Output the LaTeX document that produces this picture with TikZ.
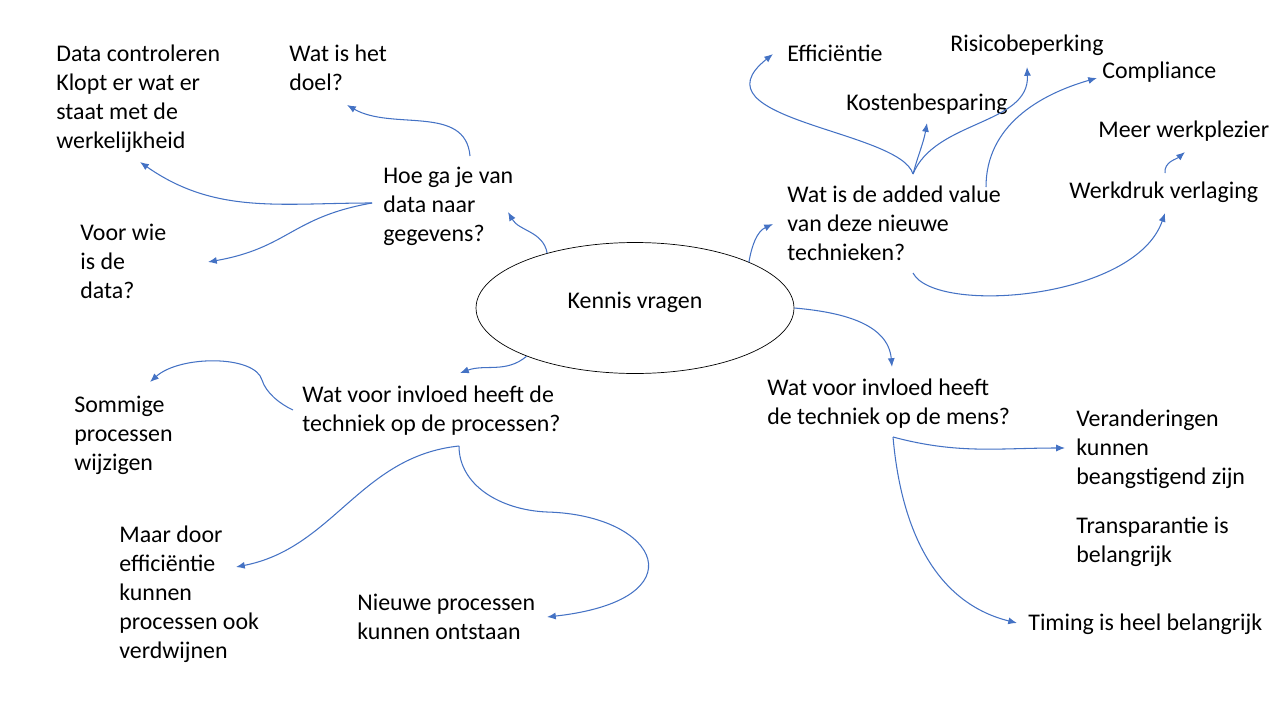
\documentclass[tikz,border=0pt]{standalone}
\usepackage{fontspec}
\setmainfont{Carlito}
\usepackage{xcolor}
\usepackage{tikz}
\usetikzlibrary{shapes.geometric,arrows.meta}
\definecolor{lijnblauw}{HTML}{4472C4}

\begin{document}
\begin{tikzpicture}[x=0.02cm, y=-0.02cm, >={Latex[length=5pt,width=4pt]},
  txt/.style={anchor=north west, yshift=0.16cm, align=left, inner sep=0pt,
    font=\fontsize{13.6}{16.5}\selectfont, execute at begin node=\strut},
  pijl/.style={->, lijnblauw, line width=0.6pt}]
%\draw[help lines] (0,0) grid[step=100] (1280,720);
\useasboundingbox (0,0) rectangle (1280,720);
%==================== Kern ==================
\node[draw, ellipse, minimum width=6.36cm, minimum height=2.62cm, inner sep=0pt,
  text depth=0.3cm, font=\fontsize{13.6}{16.5}\selectfont] (kv) at (635,308) {Kennis vragen};
%==================== Linksboven ==================
\node[txt] (data) at (56,53) {Data controleren\\Klopt er wat er\\staat met de\\werkelijkheid};
\node[txt] (doel) at (289,53) {Wat is het\\doel?};
\node[txt] (hoe) at (383,175) {Hoe ga je van\\data naar\\gegevens?};
\node[txt] (voor) at (80,232) {Voor wie\\is de\\data?};
%==================== Rechtsboven ==================
\node[txt] (added) at (787,194) {Wat is de added value\\van deze nieuwe\\technieken?};
\node[txt] (eff) at (787,49) {Efficiëntie};
\node[txt] (risico) at (950,39) {Risicobeperking};
\node[txt] (kosten) at (846,98) {Kostenbesparing};
\node[txt] (compl) at (1102,66) {Compliance};
\node[txt] (meer) at (1098,125) {Meer werkplezier};
\node[txt] (werk) at (1069,186) {Werkdruk verlaging};
%==================== Linksonder ==================
\node[txt] (proc) at (302,394) {Wat voor invloed heeft de\\techniek op de processen?};
\node[txt] (sommige) at (74,404) {Sommige\\processen\\wijzigen};
\node[txt] (maar) at (119,534) {Maar door\\efficiëntie\\kunnen\\processen ook\\verdwijnen};
\node[txt] (nieuw) at (357,602) {Nieuwe processen\\kunnen ontstaan};
%==================== Rechtsonder ==================
\node[txt] (mens) at (767,387) {Wat voor invloed heeft\\de techniek op de mens?};
\node[txt] (verand) at (1076,418) {Veranderingen\\kunnen\\beangstigend zijn};
\node[txt] (transp) at (1076,525) {Transparantie is\\belangrijk};
\node[txt] (timing) at (1028,618) {Timing is heel belangrijk};
%==================== Eindpunten ==================
\coordinate (hoeTop) at (470,156);
\coordinate (hoeLinks) at (372,203);
\coordinate (hoeIn) at (508,212);
\coordinate (doelIn) at (347,105);
\coordinate (dataIn) at (140,162);
\coordinate (voorIn) at (208,262);
\coordinate (addIn) at (773,224);
\coordinate (addTop) at (913,174);
\coordinate (addRechts) at (986,187);
\coordinate (addOnder) at (913,273);
\coordinate (effIn) at (773,54);
\coordinate (kostIn) at (927,123);
\coordinate (risicoIn) at (1027,67);
\coordinate (complIn) at (1097,78);
\coordinate (werkIn) at (1165,213);
\coordinate (werkTop) at (1165,173);
\coordinate (meerIn) at (1185,152);
\coordinate (procIn) at (460,373);
\coordinate (procLinks) at (293,410);
\coordinate (procOnder) at (459,446);
\coordinate (somIn) at (150,382);
\coordinate (maarIn) at (236,567);
\coordinate (nieuwIn) at (547,617);
\coordinate (mensIn) at (892,367);
\coordinate (mensOnder) at (893,437);
\coordinate (verIn) at (1065,448);
\coordinate (timIn) at (1017,623);
%=================== Pijlen linksboven =================
\draw[pijl] (kv.148) to[out=100, in=-60] (hoeIn);
\draw[pijl] (hoeTop) to[out=95, in=-30] (doelIn);
\draw[pijl] (hoeLinks) to[out=180, in=-35] (dataIn);
\draw[pijl] (hoeLinks) to[out=190, in=10, looseness=1.2] (voorIn);
%=================== Pijlen rechtsboven =================
\draw[pijl] (kv.22) to[out=80, in=-155] (addIn);
\draw[pijl] (addTop) .. controls (900,130) and (690,120) .. (effIn);
\draw[pijl] (addTop) to[out=75, in=-100] (kostIn);
\draw[pijl] (addTop) .. controls (935,120) and (1030,125) .. (risicoIn);
\draw[pijl] (addRechts) to[out=90, in=196] (complIn);
\draw[pijl] (addOnder) .. controls (935,315) and (1135,300) .. (werkIn);
\draw[pijl] (werkTop) to[out=95, in=-140] (meerIn);
%=================== Pijlen linksonder =================
\draw[pijl] (kv.204) to[out=220, in=20] (procIn);
\draw[pijl] (procLinks) .. controls (280,404) and (266,393) .. (262,380)
  .. controls (255,355) and (180,355) .. (somIn);
\draw[pijl] (procOnder) to[out=186, in=11] (maarIn);
\draw[pijl] (procOnder) .. controls (459,485) and (500,510) .. (547,512)
  .. controls (660,515) and (700,600) .. (nieuwIn);
%=================== Pijlen rechtsonder =================
\draw[pijl] (kv.0) to[out=-5, in=95] (mensIn);
\draw[pijl] (mensOnder) to[out=-15, in=180] (verIn);
\draw[pijl] (mensOnder) to[out=-85, in=166] (timIn);
\end{tikzpicture}
\end{document}
